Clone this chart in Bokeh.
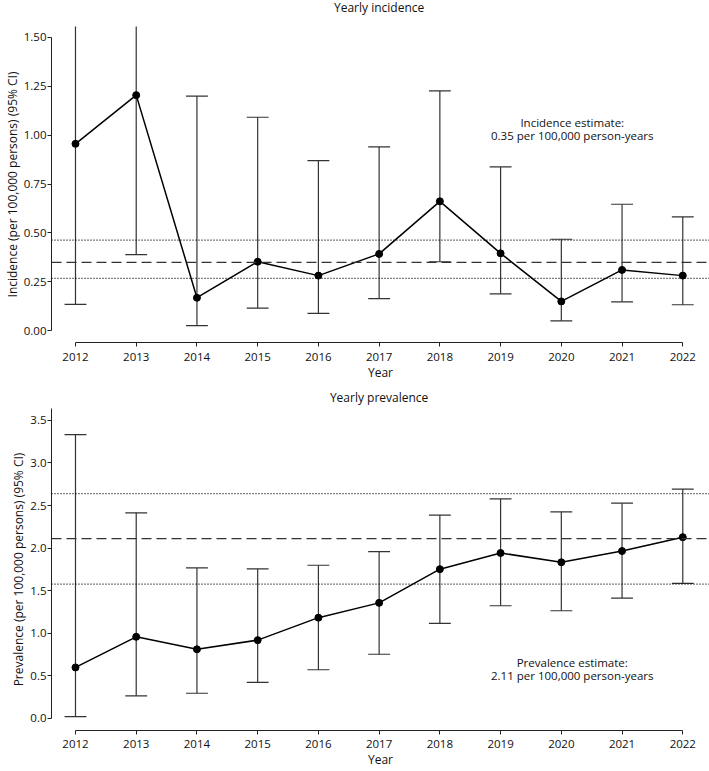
from bokeh.plotting import figure
from bokeh.layouts import column
from bokeh.models import Span, Label, FixedTicker, Range1d
from bokeh.embed import file_html
from bokeh.resources import INLINE

# ---------------- data ----------------
years = [2012, 2013, 2014, 2015, 2016, 2017, 2018, 2019, 2020, 2021, 2022]
year_labels = ["2012", "2013", "2014", "2015", "2016", "2017", "2018", "2019", "2020", "2021", "2022"]

inc_est = [0.956, 1.205, 0.169, 0.353, 0.282, 0.393, 0.662, 0.396, 0.150, 0.311, 0.282]
inc_lo = [0.135, 0.389, 0.026, 0.116, 0.089, 0.164, 0.353, 0.189, 0.051, 0.148, 0.133]
inc_hi = [3.45, 2.81, 1.200, 1.092, 0.870, 0.940, 1.227, 0.838, 0.468, 0.647, 0.582]
inc_pooled = 0.35
inc_pooled_lo = 0.268
inc_pooled_hi = 0.464
inc_ticks = [0.0, 0.25, 0.5, 0.75, 1.0, 1.25, 1.5]
inc_tick_labels = ["0.00", "0.25", "0.50", "0.75", "1.00", "1.25", "1.50"]

prev_est = [0.597, 0.957, 0.810, 0.918, 1.182, 1.356, 1.752, 1.942, 1.833, 1.965, 2.128]
prev_lo = [0.019, 0.263, 0.294, 0.422, 0.570, 0.752, 1.116, 1.322, 1.263, 1.411, 1.585]
prev_hi = [3.333, 2.414, 1.767, 1.756, 1.798, 1.957, 2.387, 2.577, 2.426, 2.527, 2.693]
prev_pooled = 2.11
prev_pooled_lo = 1.577
prev_pooled_hi = 2.64
prev_ticks = [0.0, 0.5, 1.0, 1.5, 2.0, 2.5, 3.0, 3.5]
prev_tick_labels = ["0.0", "0.5", "1.0", "1.5", "2.0", "2.5", "3.0", "3.5"]

FONT = "Open Sans"
CAP = 0.18
X_RANGE = (2011.605, 2022.44)
W = 709


def title_strip(text, height, center_from_top):
    """A thin axis-free figure holding a panel title as real text."""
    t = figure(width=W, height=height, output_backend="svg", toolbar_location=None,
               x_range=Range1d(*X_RANGE), y_range=Range1d(0, height),
               min_border_left=51, min_border_right=0, min_border_top=0, min_border_bottom=0)
    t.axis.visible = False
    t.grid.visible = False
    t.outline_line_color = None
    t.add_layout(Label(x=(years[0] + years[-1]) / 2, y=height - center_from_top, text=text,
                       text_font=FONT, text_font_size="12px", text_color="#111111",
                       text_align="center", text_baseline="middle"))
    return t


def make_panel(ylabel, est, lo, hi, yticks, ylabels, yr, ybounds,
               pooled, pooled_lo, pooled_hi, note, note_xy, height, btop, bbottom, lab_standoff):
    p = figure(width=W, height=height, output_backend="svg", toolbar_location=None,
               x_range=Range1d(*X_RANGE), y_range=Range1d(*yr),
               min_border_left=51, min_border_right=0,
               min_border_top=btop, min_border_bottom=bbottom)
    p.outline_line_color = None
    p.grid.visible = False
    p.background_fill_color = "white"
    p.border_fill_color = "white"

    for ax in (p.xaxis[0], p.yaxis[0]):
        ax.major_label_text_font = FONT
        ax.major_label_text_font_size = "11.5px"
        ax.major_label_text_color = "#111111"
        ax.axis_label_text_font = FONT
        ax.axis_label_text_font_size = "12px"
        ax.axis_label_text_font_style = "normal"
        ax.axis_label_text_color = "#111111"
        ax.axis_line_color = "#222222"
        ax.major_tick_line_color = "#222222"
        ax.minor_tick_line_color = None
        ax.major_tick_in = 0
        ax.major_tick_out = 4

    xa = p.xaxis[0]
    xa.ticker = FixedTicker(ticks=years)
    xa.major_label_overrides = {y: s for y, s in zip(years, year_labels)}
    xa.bounds = (years[0], years[-1])
    xa.axis_label = "Year"
    xa.major_label_standoff = lab_standoff
    xa.axis_label_standoff = 0

    ya = p.yaxis[0]
    ya.ticker = FixedTicker(ticks=yticks)
    ya.major_label_overrides = {t: s for t, s in zip(yticks, ylabels)}
    ya.bounds = ybounds
    ya.axis_label = ylabel
    ya.major_tick_out = 4
    ya.major_label_standoff = 1
    ya.axis_label_standoff = 0

    # reference lines
    p.add_layout(Span(location=pooled, dimension="width", line_color="#333333",
                      line_width=1.2, line_dash="10 5"))
    for loc in (pooled_lo, pooled_hi):
        p.add_layout(Span(location=loc, dimension="width", line_color="#000000",
                          line_width=1.2, line_dash="1 2"))

    # error bars
    p.segment(x0=years, y0=lo, x1=years, y1=hi, line_color="#333333", line_width=1.2)
    p.segment(x0=[x - CAP for x in years], y0=lo, x1=[x + CAP for x in years], y1=lo,
              line_color="#333333", line_width=1.2)
    p.segment(x0=[x - CAP for x in years], y0=hi, x1=[x + CAP for x in years], y1=hi,
              line_color="#333333", line_width=1.2)

    # estimate line + points
    p.line(years, est, line_color="black", line_width=1.5)
    p.scatter(years, est, size=7, color="black")

    p.add_layout(Label(x=note_xy[0], y=note_xy[1], text=note, text_font=FONT,
                       text_font_size="11.5px", text_color="#111111",
                       text_align="center", text_baseline="middle", text_line_height=0.85))
    return p


t1 = title_strip("Yearly incidence", 20, 7)
p1 = make_panel("Incidence (per 100,000 persons) (95% CI)",
                inc_est, inc_lo, inc_hi, inc_ticks, inc_tick_labels,
                (-0.06, 1.556), (0.0, 1.5),
                inc_pooled, inc_pooled_lo, inc_pooled_hi,
                "Incidence estimate:\n0.35 per 100,000 person-years", (2020.18, 1.033),
                366, 6, 44, 6)

t2 = title_strip("Yearly prevalence", 21, 11)
p2 = make_panel("Prevalence (per 100,000 persons) (95% CI)",
                prev_est, prev_lo, prev_hi, prev_ticks, prev_tick_labels,
                (-0.144, 3.64), (0.0, 3.64),
                prev_pooled, prev_pooled_lo, prev_pooled_hi,
                "Prevalence estimate:\n2.11 per 100,000 person-years", (2020.18, 0.58),
                364, 1, 41, 5)

layout = column(t1, p1, t2, p2, spacing=0)
open("out.html", "w").write(file_html(layout, INLINE))
